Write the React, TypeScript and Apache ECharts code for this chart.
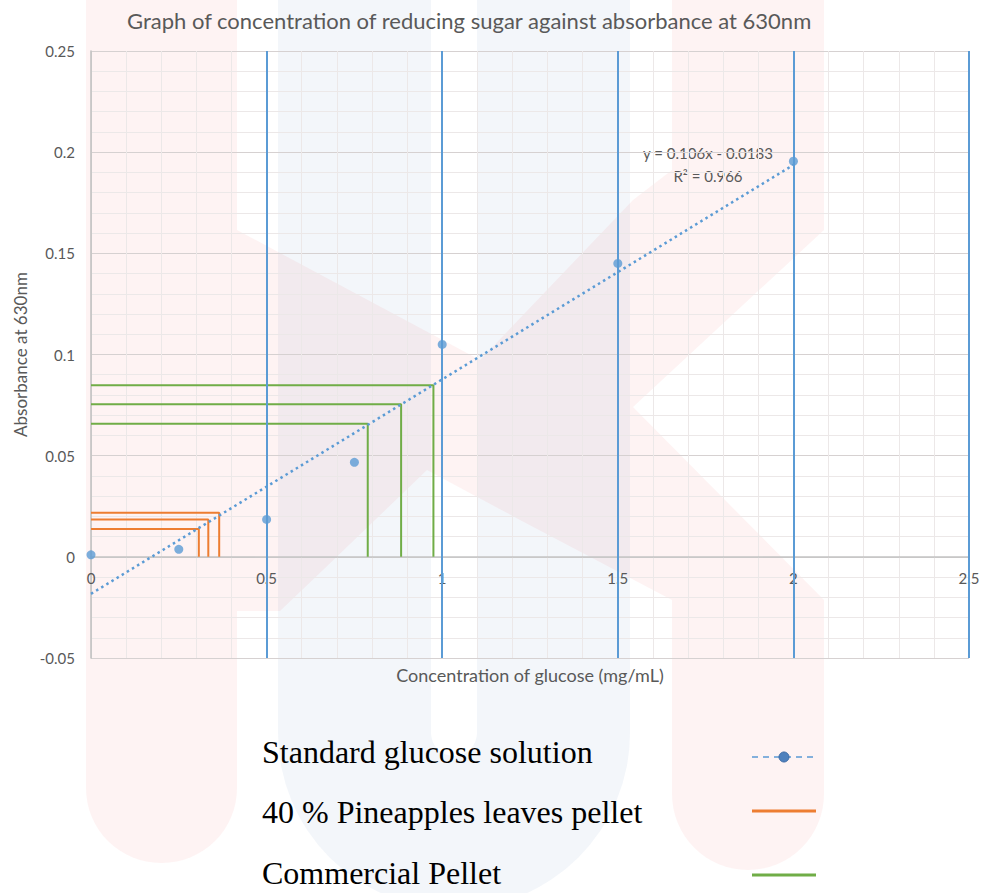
import React, { useEffect, useRef } from "react";
import * as echarts from "echarts";

// ---- data ----
const chartTitle = "Graph of concentration of reducing sugar against absorbance at 630nm";
const xAxisName = "Concentration of glucose (mg/mL)";
const yAxisName = "Absorbance at 630nm";

const standardConc = [0, 0.25, 0.5, 0.75, 1, 1.5, 2];
const standardAbs = [0.001, 0.0037, 0.0185, 0.0467, 0.105, 0.145, 0.1955];

const trendSlope = 0.106;
const trendIntercept = -0.0183;
const trendXRange = [0, 2];
const trendEquation = "y = 0.106x - 0.0183";
const trendR2 = "R\u00B2 = 0.966";

const pineappleConc = [0.365, 0.334, 0.307];
const pineappleAbs = [0.0218, 0.0184, 0.0138];

const commercialConc = [0.975, 0.883, 0.788];
const commercialAbs = [0.0848, 0.0754, 0.0658];

const majorXLines = [0.5, 1, 1.5, 2, 2.5];

const legendLabels = [
  "Standard glucose solution",
  "40 % Pineapples leaves pellet",
  "Commercial Pellet",
];

const BLUE = "#5B9BD5";
const ORANGE = "#ED7D31";
const GREEN = "#70AD47";
const AXIS_TEXT = "#595959";
const FONT = "Lato, 'Open Sans', sans-serif";

function lShape(x: number, y: number) {
  return [
    [0, y],
    [x, y],
    [x, 0],
  ];
}

export default function App() {
  const ref = useRef<HTMLDivElement>(null);

  useEffect(() => {
    if (!ref.current) return;
    const chart = echarts.init(ref.current, undefined, { renderer: "svg" });

    const pink = "rgba(240,90,90,0.07)";
    const blueWm = "rgba(90,130,185,0.075)";

    const watermark: any[] = [
      { type: "rect", z: -10, silent: true, shape: { x: 86, y: -50, width: 151, height: 913, r: [0, 0, 75, 75] }, style: { fill: pink } },
      { type: "rect", z: -10, silent: true, shape: { x: 672, y: -50, width: 152, height: 220 }, style: { fill: pink } },
      { type: "rect", z: -10, silent: true, shape: { x: 672, y: 600, width: 152, height: 270, r: [0, 0, 76, 76] }, style: { fill: pink } },
      {
        type: "polygon", z: -10, silent: true,
        shape: {
          points: [
            [237, 230], [480, 360], [633, 200], [672, 170], [824, 170], [824, 230],
            [633, 407], [824, 600], [672, 600], [520, 520], [427, 470], [323, 570],
            [280, 611], [237, 611],
          ],
        },
        style: { fill: pink },
      },
      { type: "rect", z: -11, silent: true, shape: { x: 278, y: -10, width: 153, height: 743 }, style: { fill: blueWm } },
      { type: "rect", z: -11, silent: true, shape: { x: 477, y: -10, width: 153, height: 743 }, style: { fill: blueWm } },
      { type: "sector", z: -11, silent: true, shape: { cx: 454, cy: 733, r: 176, r0: 23, startAngle: 0, endAngle: Math.PI }, style: { fill: blueWm } },
    ];

    const legendRows = [752, 812, 873];
    const legendGraphics: any[] = [];
    legendLabels.forEach((label, i) => {
      legendGraphics.push({
        type: "text",
        x: 262,
        y: legendRows[i],
        style: {
          text: label,
          fontFamily: "'Liberation Serif', 'Times New Roman', serif",
          fontSize: 32,
          fill: "#000",
          verticalAlign: "middle",
          align: "left",
        },
      });
    });
    legendGraphics.push(
      { type: "line", shape: { x1: 752, y1: 757, x2: 816, y2: 757 }, style: { stroke: BLUE, lineWidth: 1.5, lineDash: [6, 5] } },
      { type: "circle", shape: { cx: 784, cy: 757, r: 5 }, style: { fill: "#4F81BD", stroke: "#3b6aa5", lineWidth: 1 } },
      { type: "line", shape: { x1: 752, y1: 811, x2: 816, y2: 811 }, style: { stroke: ORANGE, lineWidth: 3 } },
      { type: "line", shape: { x1: 752, y1: 875, x2: 816, y2: 875 }, style: { stroke: GREEN, lineWidth: 3 } }
    );

    const trendLabels: any[] = [
      { type: "text", x: 708, y: 153, style: { text: trendEquation, fontFamily: FONT, fontSize: 15, fill: AXIS_TEXT, align: "center", verticalAlign: "middle" } },
      { type: "text", x: 708, y: 176, style: { text: trendR2, fontFamily: FONT, fontSize: 15, fill: AXIS_TEXT, align: "center", verticalAlign: "middle" } },
    ];

    const series: any[] = [
      {
        name: "grid-lines",
        type: "line",
        data: [],
        silent: true,
        z: 1,
        markLine: {
          silent: true,
          symbol: ["none", "none"],
          label: { show: false },
          lineStyle: { color: BLUE, width: 2, type: "solid" },
          data: majorXLines.map((v) => ({ xAxis: v })),
        },
      },
      {
        name: "Trendline",
        type: "line",
        symbol: "none",
        z: 3,
        lineStyle: { color: BLUE, width: 2.5, type: [2.5, 3.5] },
        data: trendXRange.map((x) => [x, trendSlope * x + trendIntercept]),
      },
    ];
    pineappleConc.forEach((x, i) => {
      series.push({
        name: legendLabels[1],
        type: "line",
        symbol: "none",
        z: 2,
        lineStyle: { color: ORANGE, width: 2 },
        data: lShape(x, pineappleAbs[i]),
      });
    });
    commercialConc.forEach((x, i) => {
      series.push({
        name: legendLabels[2],
        type: "line",
        symbol: "none",
        z: 2,
        lineStyle: { color: GREEN, width: 2 },
        data: lShape(x, commercialAbs[i]),
      });
    });
    series.push({
      name: legendLabels[0],
      type: "scatter",
      symbol: "circle",
      symbolSize: 9,
      z: 5,
      itemStyle: { color: BLUE },
      data: standardConc.map((x, i) => [x, standardAbs[i]]),
    });

    chart.setOption({
      animation: false,
      backgroundColor: "#ffffff",
      title: {
        text: chartTitle,
        left: 122,
        top: 4,
        textStyle: { fontFamily: FONT, fontSize: 22, fontWeight: "normal", color: AXIS_TEXT },
      },
      grid: { left: 91, right: 15, top: 51, bottom: 235, containLabel: false },
      xAxis: {
        type: "value",
        min: 0,
        max: 2.5,
        interval: 0.5,
        position: "bottom",
        offset: -101,
        name: xAxisName,
        nameLocation: "middle",
        nameGap: 109,
        nameTextStyle: { fontFamily: FONT, fontSize: 18, color: AXIS_TEXT },
        axisLine: { show: true, onZero: false, lineStyle: { color: "#c4c4c4", width: 1.5 } },
        axisTick: { show: false },
        axisLabel: { fontFamily: FONT, fontSize: 15, color: AXIS_TEXT, margin: 13 },
        splitLine: { show: true, lineStyle: { color: "#e4dfdf", width: 1 } },
        minorTick: { show: false, splitNumber: 5 },
        minorSplitLine: { show: true, lineStyle: { color: "#ece8e8", width: 1 } },
      },
      yAxis: {
        type: "value",
        min: -0.05,
        max: 0.25,
        interval: 0.05,
        name: yAxisName,
        nameLocation: "middle",
        nameGap: 62,
        nameRotate: 90,
        nameTextStyle: { fontFamily: FONT, fontSize: 17, color: AXIS_TEXT },
        axisLine: { show: true, onZero: false, lineStyle: { color: "#bfbfbf", width: 1.5 } },
        axisTick: { show: false },
        axisLabel: { fontFamily: FONT, fontSize: 15, color: AXIS_TEXT, margin: 16 },
        splitLine: { show: true, lineStyle: { color: "#d6d1d1", width: 1.2 } },
        minorTick: { show: false, splitNumber: 5 },
        minorSplitLine: { show: true, lineStyle: { color: "#ece8e8", width: 1 } },
      },
      graphic: { elements: [...watermark, ...trendLabels, ...legendGraphics] },
      series,
    });

    return () => chart.dispose();
  }, []);

  return (
    <div
      ref={ref}
      style={{ position: "absolute", left: 0, top: 0, width: 984, height: 893, background: "#fff" }}
    />
  );
}
